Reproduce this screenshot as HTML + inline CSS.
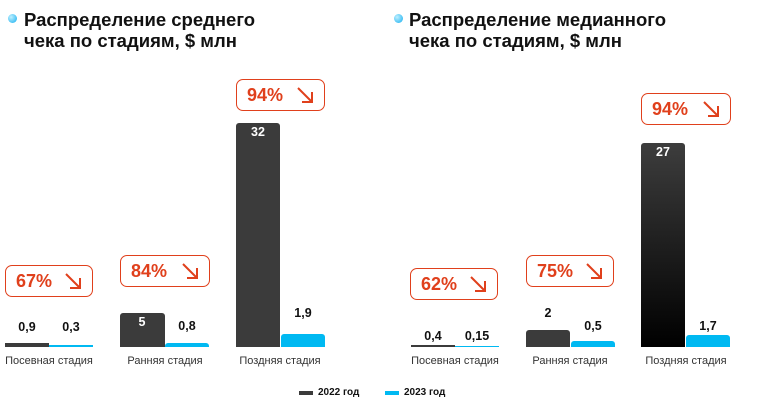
<!DOCTYPE html>
<html><head><meta charset="utf-8"><style>
body{margin:0;width:759px;height:403px;background:#fff;position:relative;overflow:hidden;font-family:"Liberation Sans","DejaVu Sans",sans-serif}
.a{position:absolute}
.t{font-weight:bold;font-size:18.5px;line-height:21px;color:#111}
.dot{width:9px;height:9px;border-radius:50%;background:radial-gradient(circle at 35% 35%,#bff0ff,#13aef0)}
.d{background:#3b3b3b;border-radius:3px 3px 0 0}
.b{background:#00b9f2;border-radius:3px 3px 0 0}
.v{font-weight:bold;font-size:12.5px;color:#111;text-align:center;width:44px}
.w{color:#fff}
.c{font-size:11px;color:#333;text-align:center;width:120px}
.box{border:1.5px solid #e0401c;border-radius:7px;box-sizing:border-box;color:#e0401c;font-weight:bold;font-size:18px}
.box span{position:absolute;left:10px;top:5px}
.box svg{position:absolute;right:10px;top:6px}
.lg{font-size:10px;font-weight:bold;color:#111}
</style></head><body>
<div class="a dot" style="left:8px;top:14px"></div>
<div class="a t" style="left:24px;top:9px">Распределение среднего<br>чека по стадиям, $ млн</div>
<div class="a dot" style="left:394px;top:14px"></div>
<div class="a t" style="left:409px;top:9px">Распределение медианного<br>чека по стадиям, $ млн</div>

<div class="a d" style="left:5px;top:343px;width:44px;height:4px;border-radius:0"></div>
<div class="a b" style="left:49px;top:345px;width:44px;height:2px;border-radius:0"></div>
<div class="a v" style="left:5px;top:320px">0,9</div>
<div class="a v" style="left:49px;top:320px">0,3</div>
<div class="a d" style="left:120px;top:313px;width:45px;height:34px"></div>
<div class="a b" style="left:165px;top:343px;width:44px;height:4px"></div>
<div class="a v w" style="left:120px;top:315px">5</div>
<div class="a v" style="left:165px;top:319px">0,8</div>
<div class="a d" style="left:236px;top:123px;width:44px;height:224px"></div>
<div class="a b" style="left:281px;top:334px;width:44px;height:13px"></div>
<div class="a v w" style="left:236px;top:125px">32</div>
<div class="a v" style="left:281px;top:306px">1,9</div>
<div class="a c" style="left:-11px;top:355px">Посевная стадия</div>
<div class="a c" style="left:105px;top:355px">Ранняя стадия</div>
<div class="a c" style="left:220px;top:355px">Поздняя стадия</div>

<div class="a d" style="left:411px;top:345px;width:44px;height:2px;border-radius:0"></div>
<div class="a b" style="left:455px;top:346px;width:44px;height:1px;border-radius:0"></div>
<div class="a v" style="left:411px;top:329px">0,4</div>
<div class="a v" style="left:455px;top:329px">0,15</div>
<div class="a d" style="left:526px;top:330px;width:44px;height:17px"></div>
<div class="a b" style="left:571px;top:341px;width:44px;height:6px"></div>
<div class="a v" style="left:526px;top:306px">2</div>
<div class="a v" style="left:571px;top:319px">0,5</div>
<div class="a d" style="left:641px;top:143px;width:44px;height:204px;background:linear-gradient(#3d3d3d,#000)"></div>
<div class="a b" style="left:686px;top:335px;width:44px;height:12px"></div>
<div class="a v w" style="left:641px;top:145px">27</div>
<div class="a v" style="left:686px;top:319px">1,7</div>
<div class="a c" style="left:395px;top:355px">Посевная стадия</div>
<div class="a c" style="left:510px;top:355px">Ранняя стадия</div>
<div class="a c" style="left:626px;top:355px">Поздняя стадия</div>

<div class="a box" style="left:5px;top:265px;width:88px;height:32px"><span>67%</span><svg width="18" height="18" viewBox="0 0 18 18"><path d="M2 2L16 16M6 16H16V6" stroke="#e0401c" stroke-width="2" fill="none"/></svg></div>
<div class="a box" style="left:120px;top:255px;width:90px;height:32px"><span>84%</span><svg width="18" height="18" viewBox="0 0 18 18"><path d="M2 2L16 16M6 16H16V6" stroke="#e0401c" stroke-width="2" fill="none"/></svg></div>
<div class="a box" style="left:236px;top:79px;width:89px;height:32px"><span>94%</span><svg width="18" height="18" viewBox="0 0 18 18"><path d="M2 2L16 16M6 16H16V6" stroke="#e0401c" stroke-width="2" fill="none"/></svg></div>
<div class="a box" style="left:410px;top:268px;width:88px;height:32px"><span>62%</span><svg width="18" height="18" viewBox="0 0 18 18"><path d="M2 2L16 16M6 16H16V6" stroke="#e0401c" stroke-width="2" fill="none"/></svg></div>
<div class="a box" style="left:526px;top:255px;width:88px;height:32px"><span>75%</span><svg width="18" height="18" viewBox="0 0 18 18"><path d="M2 2L16 16M6 16H16V6" stroke="#e0401c" stroke-width="2" fill="none"/></svg></div>
<div class="a box" style="left:641px;top:93px;width:90px;height:32px"><span>94%</span><svg width="18" height="18" viewBox="0 0 18 18"><path d="M2 2L16 16M6 16H16V6" stroke="#e0401c" stroke-width="2" fill="none"/></svg></div>

<div class="a" style="left:299px;top:391px;width:14px;height:4px;background:#3b3b3b"></div>
<div class="a lg" style="left:318px;top:387px">2022 год</div>
<div class="a" style="left:385px;top:391px;width:14px;height:4px;background:#00b9f2"></div>
<div class="a lg" style="left:404px;top:387px">2023 год</div>
</body></html>
